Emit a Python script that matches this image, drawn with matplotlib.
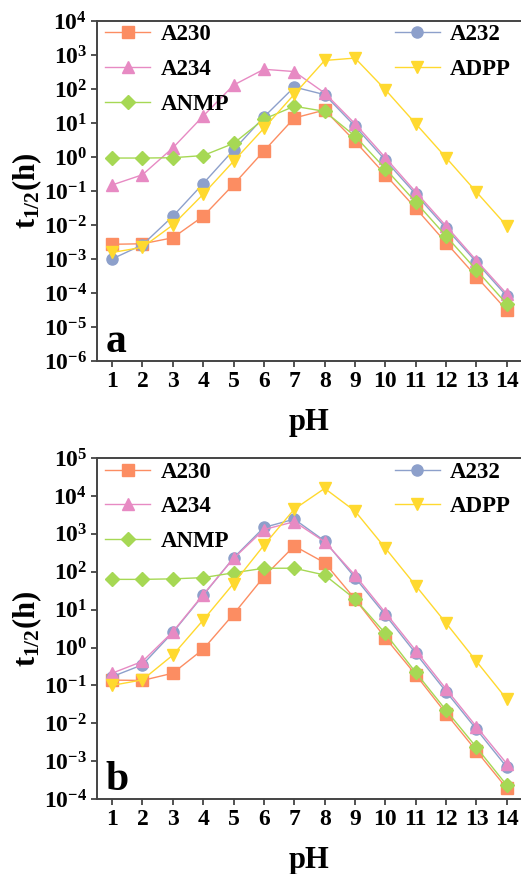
import math
import matplotlib
matplotlib.use("Agg")
import matplotlib.pyplot as plt
from matplotlib.ticker import LogLocator, FixedLocator, NullLocator, FuncFormatter

plt.rcParams['font.family'] = ['Liberation Serif', 'DejaVu Serif']
plt.rcParams['font.weight'] = 'bold'
plt.rcParams['mathtext.fontset'] = 'custom'
plt.rcParams['mathtext.rm'] = 'Liberation Serif:bold'
plt.rcParams['mathtext.it'] = 'Liberation Serif:bold'
plt.rcParams['mathtext.bf'] = 'Liberation Serif:bold'

pH = list(range(1, 15))
names = ['A230', 'A232', 'A234', 'ANMP', 'ADPP']
colors = ['#FC8D62', '#8DA0CB', '#E78AC3', '#A6D854', '#FFD92F']
markers = ['s', 'o', '^', 'D', 'v']

# half-lives (h), panel a
a_A230 = [2.7e-3, 2.8e-3, 4.2e-3, 0.018, 0.155, 1.5, 14, 24, 2.9, 0.30, 0.031, 3.0e-3, 3.0e-4, 3.1e-5]
a_A232 = [1.0e-3, 2.6e-3, 0.018, 0.165, 1.6, 15, 114, 68, 8.0, 0.8, 0.08, 8.0e-3, 8.0e-4, 8.0e-5]
a_A234 = [0.15, 0.30, 1.85, 16, 130, 380, 325, 76, 9.5, 0.95, 0.093, 9.3e-3, 9.0e-4, 9.3e-5]
a_ANMP = [0.93, 0.93, 0.95, 1.1, 2.5, 13, 31, 22, 4.1, 0.45, 0.047, 4.7e-3, 4.7e-4, 4.7e-5]
a_ADPP = [1.55e-3, 2.2e-3, 0.010, 0.08, 0.75, 7.0, 70, 690, 810, 95, 9.5, 0.95, 0.093, 9.3e-3]

# half-lives (h), panel b
b_A230 = [0.138, 0.135, 0.21, 0.9, 7.6, 74, 480, 173, 19, 1.8, 0.19, 0.018, 1.85e-3, 1.9e-4]
b_A232 = [0.17, 0.35, 2.5, 24, 233, 1480, 2450, 650, 70, 7.2, 0.7, 0.068, 6.9e-3, 6.9e-4]
b_A234 = [0.21, 0.43, 2.6, 25, 225, 1300, 2100, 620, 81, 8.3, 0.83, 0.08, 8.1e-3, 8.5e-4]
b_ANMP = [63, 63, 65, 70, 94, 124, 124, 82, 19, 2.35, 0.22, 0.022, 2.3e-3, 2.3e-4]
b_ADPP = [0.1, 0.14, 0.63, 5.3, 49, 500, 4500, 15900, 4000, 420, 43, 4.4, 0.43, 0.043]

panels = [
    ('a', [a_A230, a_A232, a_A234, a_ANMP, a_ADPP], -6, 4),
    ('b', [b_A230, b_A232, b_A234, b_ANMP, b_ADPP], -4, 5),
]

fig = plt.figure(figsize=(5.21, 8.74), dpi=100)
rects = [[0.186, 0.587, 0.816, 0.389], [0.186, 0.0858, 0.816, 0.390]]

spine_col = '#444444'
leg_kw = dict(frameon=False, fontsize=16.5, handlelength=1.95, borderpad=0.0,
              borderaxespad=0.0, labelspacing=0.6, handletextpad=0.45)

for (tag, series, lo, hi), rect in zip(panels, rects):
    ax = fig.add_axes(rect)
    lines = []
    for name, vals, c, m in zip(names, series, colors, markers):
        ln, = ax.plot(pH, vals, color=c, marker=m, markersize=8 if m != 'D' else 7,
                      linewidth=1.0, label=name)
        lines.append(ln)
    ax.set_yscale('log')
    ax.set_ylim(10.0 ** lo, 10.0 ** hi)
    ax.set_xlim(0.5, 14.5)
    ax.xaxis.set_major_locator(FixedLocator(pH))
    ax.yaxis.set_major_locator(LogLocator(base=10, numticks=20))
    ax.yaxis.set_minor_locator(NullLocator())
    ax.yaxis.set_major_formatter(FuncFormatter(lambda v, p: r'$10^{%d}$' % round(math.log10(v))))
    for s in ['left', 'bottom', 'top', 'right']:
        ax.spines[s].set_color(spine_col)
        ax.spines[s].set_linewidth(1.4)
    ax.tick_params(direction='out', length=4, width=1.3, color=spine_col, labelsize=17, pad=3)
    for lab in ax.get_xticklabels():
        lab.set_fontweight('bold')
    ax.set_xlabel('pH', fontsize=22, fontweight='bold', labelpad=12)
    ax.set_ylabel(r'$t_{1/2}(h)$', fontsize=22, labelpad=0)
    ax.text(0.021, 0.025, tag, transform=ax.transAxes, fontsize=30, fontweight='bold',
            ha='left', va='baseline')

    # legend split into two groups at opposite corners
    leg1 = ax.legend([lines[0], lines[2], lines[3]], ['A230', 'A234', 'ANMP'],
                     loc='upper left', bbox_to_anchor=(0.02, 0.99), **leg_kw)
    ax.add_artist(leg1)
    ax.legend([lines[1], lines[4]], ['A232', 'ADPP'], loc='upper right',
              bbox_to_anchor=(0.974, 0.99), **leg_kw)

fig.savefig('out.png', dpi=100)
